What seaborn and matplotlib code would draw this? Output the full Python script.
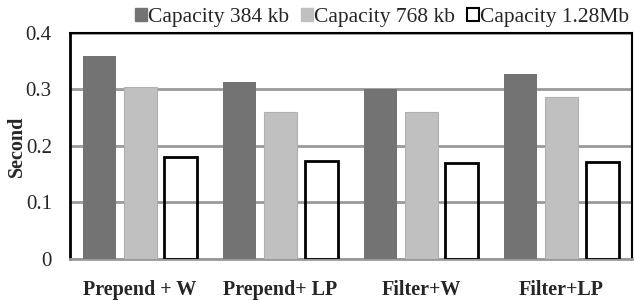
import matplotlib
matplotlib.use("Agg")
import matplotlib.pyplot as plt
import seaborn as sns
import pandas as pd
from matplotlib.patches import Patch

categories = ["Prepend + W", "Prepend+ LP", "Filter+W", "Filter+LP"]
series_names = ["Capacity 384 kb", "Capacity 768 kb", "Capacity 1.28Mb"]
cap_384 = [0.360, 0.313, 0.301, 0.327]
cap_768 = [0.304, 0.261, 0.261, 0.286]
cap_128 = [0.181, 0.174, 0.170, 0.172]
yticks = [0, 0.1, 0.2, 0.3, 0.4]
ytick_labels = ["0", "0.1", "0.2", "0.3", "0.4"]

rows = []
for name, vals in zip(series_names, [cap_384, cap_768, cap_128]):
    for c, v in zip(categories, vals):
        rows.append({"cat": c, "series": name, "value": v})
df = pd.DataFrame(rows)

sns.set_style("white")
plt.rcParams["font.family"] = ["Liberation Serif", "DejaVu Serif"]

fig = plt.figure(figsize=(6.35, 3.0), dpi=100)
ax = fig.add_axes([0.110, 0.137, 0.885, 0.753])

colors = ["#737373", "#c0c0c0", "#ffffff"]
sns.barplot(data=df, x="cat", y="value", hue="series", order=categories,
            hue_order=series_names, palette=colors, width=0.87, gap=0.19,
            ax=ax, legend=False, zorder=3, linewidth=0)

n = len(categories)
for i, p in enumerate(ax.patches):
    s = i // n
    if s == 2:
        p.set_facecolor("none")
        p.set_edgecolor("black")
        p.set_linewidth(2.0)
    elif s == 1:
        p.set_edgecolor("#b0b0b0")
        p.set_linewidth(0.8)

ax.set_ylim(0, 0.4)
ax.set_xlim(-0.5, n - 0.5)
ax.set_yticks(yticks)
ax.set_yticklabels(ytick_labels, fontsize=15)
ax.yaxis.grid(True, color="#999999", linewidth=2, zorder=0)
ax.set_axisbelow(True)
ax.tick_params(axis="y", length=0, pad=13)
ax.tick_params(axis="x", length=0, pad=15)
for lab in ax.get_xticklabels():
    lab.set_fontweight("bold")
    lab.set_fontsize(14.5)
ax.set_xlabel("")
ax.set_ylabel("Second", fontsize=14.5, fontweight="bold")
ax.yaxis.set_label_coords(-0.076, 0.5)

for side in ["left", "top", "right"]:
    ax.spines[side].set_visible(True)
    ax.spines[side].set_color("black")
ax.spines["left"].set_linewidth(2)
ax.spines["top"].set_linewidth(1.5)
ax.spines["right"].set_linewidth(1.5)
ax.spines["bottom"].set_color("#999999")
ax.spines["bottom"].set_linewidth(2)

handles = [Patch(facecolor=colors[0], edgecolor=colors[0]),
           Patch(facecolor=colors[1], edgecolor=colors[1]),
           Patch(facecolor="white", edgecolor="black", linewidth=1.5)]
fig.legend(handles, series_names, loc="upper right", bbox_to_anchor=(0.998, 0.988),
           ncol=3, frameon=False, fontsize=15.5, handlelength=0.53, handleheight=0.53,
           handletextpad=0.08, columnspacing=0.55, borderaxespad=0.0, borderpad=0.2)

fig.savefig("out.png", dpi=100)
